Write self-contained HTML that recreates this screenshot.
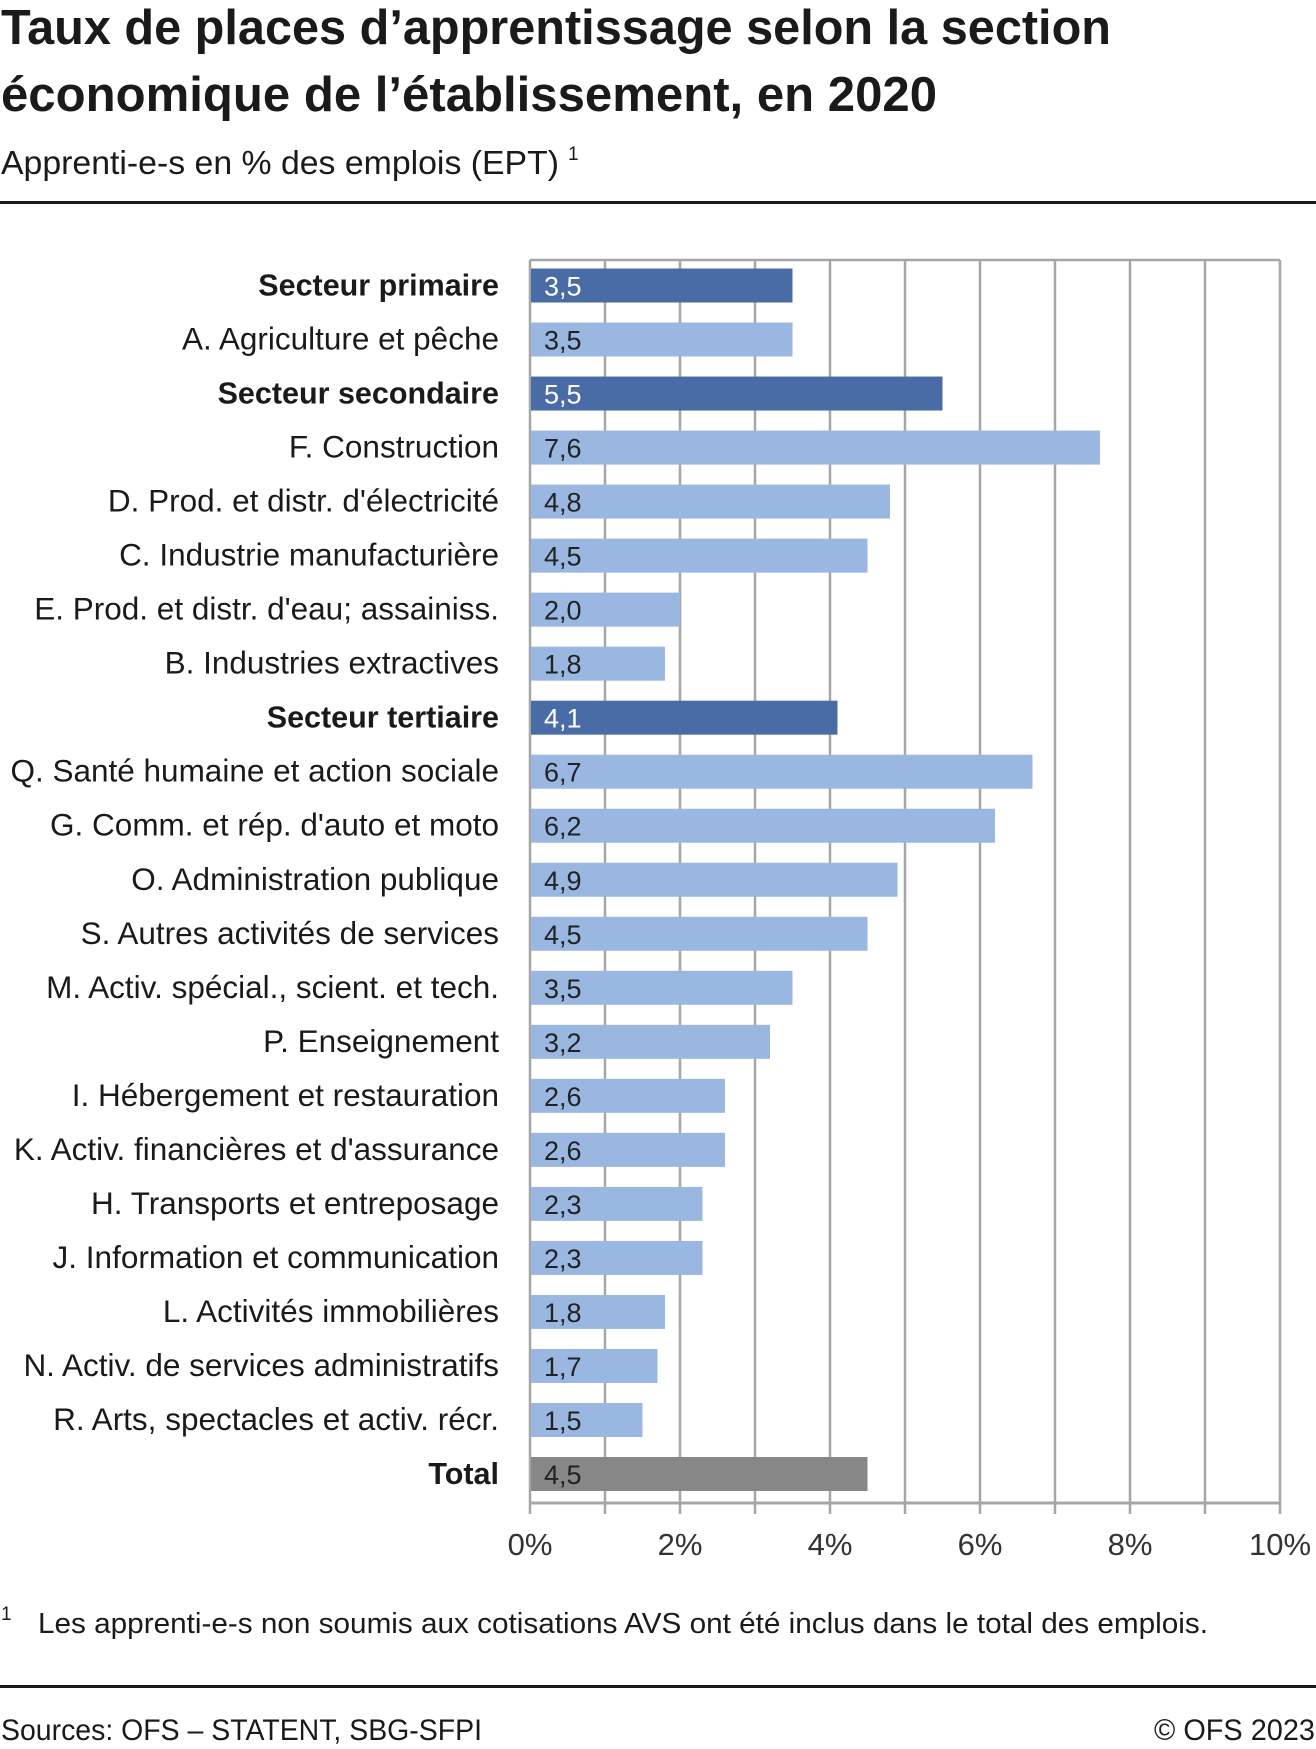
<!DOCTYPE html>
<html><head><meta charset="utf-8"><style>
html,body{margin:0;padding:0;background:#fff;}
svg{display:block;font-family:"Liberation Sans",sans-serif;}
</style></head><body>
<svg id="chart" width="1316" height="1749" viewBox="0 0 1316 1749" xmlns="http://www.w3.org/2000/svg">
<text x="1" y="44" font-size="49" font-weight="bold" fill="#1a1a1a" textLength="1110" lengthAdjust="spacingAndGlyphs">Taux de places d’apprentissage selon la section</text>
<text x="1" y="111" font-size="49" font-weight="bold" fill="#1a1a1a" textLength="936" lengthAdjust="spacingAndGlyphs">économique de l’établissement, en 2020</text>
<text x="1" y="174" font-size="33" fill="#1a1a1a" textLength="558" lengthAdjust="spacingAndGlyphs">Apprenti-e-s en % des emplois (EPT)</text>
<text x="568" y="160" font-size="19" fill="#1a1a1a">1</text>
<rect x="0" y="201" width="1316" height="3" fill="#1a1a1a"/>
<g id="plot"></g>
<text x="1" y="1620" font-size="19" fill="#1a1a1a">1</text>
<text x="38" y="1633" font-size="29" fill="#1a1a1a" textLength="1170" lengthAdjust="spacingAndGlyphs">Les apprenti-e-s non soumis aux cotisations AVS ont été inclus dans le total des emplois.</text>
<rect x="0" y="1685" width="1316" height="3" fill="#1a1a1a"/>
<text x="1" y="1740" font-size="30" fill="#1a1a1a" textLength="481" lengthAdjust="spacingAndGlyphs">Sources: OFS – STATENT, SBG-SFPI</text>
<text x="1315" y="1740" font-size="30" fill="#1a1a1a" text-anchor="end" textLength="161" lengthAdjust="spacingAndGlyphs">© OFS 2023</text>
</svg>
<script>
const categories = ["Secteur primaire","A. Agriculture et pêche","Secteur secondaire","F. Construction","D. Prod. et distr. d'électricité","C. Industrie manufacturière","E. Prod. et distr. d'eau; assainiss.","B. Industries extractives","Secteur tertiaire","Q. Santé humaine et action sociale","G. Comm. et rép. d'auto et moto","O. Administration publique","S. Autres activités de services","M. Activ. spécial., scient. et tech.","P. Enseignement","I. Hébergement et restauration","K. Activ. financières et d'assurance","H. Transports et entreposage","J. Information et communication","L. Activités immobilières","N. Activ. de services administratifs","R. Arts, spectacles et activ. récr.","Total"];
const values = [3.5,3.5,5.5,7.6,4.8,4.5,2.0,1.8,4.1,6.7,6.2,4.9,4.5,3.5,3.2,2.6,2.6,2.3,2.3,1.8,1.7,1.5,4.5];
const kinds = ["sector","sub","sector","sub","sub","sub","sub","sub","sector","sub","sub","sub","sub","sub","sub","sub","sub","sub","sub","sub","sub","sub","total"];
const tickValues = [0,2,4,6,8,10];
const tickLabels = ["0%","2%","4%","6%","8%","10%"];

const NS="http://www.w3.org/2000/svg";
const g=document.getElementById('plot');
const X0=530,X1=1280,T=260,B=1503,xMax=10;
const x=v=>X0+(X1-X0)*v/xMax;
const c0=285.5,step=(1474-285.5)/22,bh=34;
const y=i=>c0+i*step;
function mk(tag,at){const e=document.createElementNS(NS,tag);for(const k in at)e.setAttribute(k,at[k]);g.appendChild(e);return e;}
for(let v=1;v<=xMax;v++){
  const l=mk('line',{x1:x(v),x2:x(v),y1:T,y2:B+11,stroke:'#a6a6a6','stroke-width':2.5});
  
  
}
const zl=mk('line',{x1:X0,x2:X0,y1:T,y2:B+11,stroke:'#a6a6a6','stroke-width':2.5});


const tl=mk('line',{x1:X0,x2:X1,y1:T,y2:T,stroke:'#a6a6a6','stroke-width':2.5});


const al=mk('line',{x1:X0,x2:X1,y1:B,y2:B,stroke:'#a6a6a6','stroke-width':3});


const colors={sector:'#4a6ca6',sub:'#9ab7e2',total:'#878787'};
categories.forEach((c,i)=>{
  const cy=y(i);
  const r=mk('rect',{x:X0+1,y:cy-bh/2,width:x(values[i])-X0-1,height:bh,fill:colors[kinds[i]]});
  
  
  const vt=mk('text',{x:X0+14,y:cy+10,'font-size':27,fill:kinds[i]==='sector'?'#fff':'#222'});
  vt.textContent=values[i].toFixed(1).replace('.',',');
  
  
  const sub=kinds[i]==='sub';
  const lt=mk('text',{x:499,y:cy+10,'font-size':sub?31.5:30.5,'text-anchor':'end',fill:'#1a1a1a','font-weight':sub?'normal':'bold'});
  lt.textContent=c;
  
  
});
tickValues.forEach((v,i)=>{
  const t=mk('text',{x:x(v),y:1555,'font-size':31,'text-anchor':'middle',fill:'#333'});
  t.textContent=tickLabels[i];
  
  
});
</script>
</body></html>
